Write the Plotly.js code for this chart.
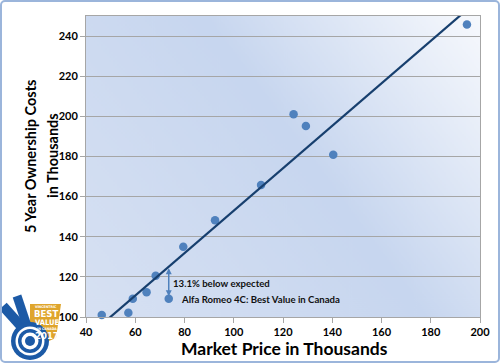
<!DOCTYPE html>
<html>
<head>
<meta charset="utf-8">
<script src="https://cdn.plot.ly/plotly-3.0.1.min.js"></script>
<style>
html,body{margin:0;padding:0;background:#fff;}
#wrap{position:relative;width:500px;height:363px;}
#chart{position:absolute;left:0;top:0;width:500px;height:363px;}
#frame{position:absolute;left:0;top:0;width:500px;height:363px;box-sizing:border-box;border:2px solid #9bb5db;border-radius:5px;pointer-events:none;}
</style>
</head>
<body>
<div id="wrap"><div id="chart"></div><div id="frame"></div></div>
<script>
// ---- data (thousands) ----
const marketPrice = [46.4, 57.2, 59.0, 64.6, 68.3, 73.6, 79.5, 92.4, 111.1, 124.3, 129.3, 140.4, 194.7];
const ownershipCost = [101.0, 102.1, 109.1, 112.3, 120.6, 109.1, 135.0, 148.2, 165.8, 201.0, 195.2, 180.9, 245.8];
const highlightIndex = 5; // Alfa Romeo 4C
const xTicks = [40, 60, 80, 100, 120, 140, 160, 180, 200];
const yTicks = [100, 120, 140, 160, 180, 200, 220, 240];
const labelBelow = "13.1% below expected";
const labelCar = "Alfa Romeo 4C: Best Value in Canada";
const xTitle = "Market Price in Thousands";
const yTitle1 = "5 Year Ownership Costs";
const yTitle2 = "in Thousands";
const logoLines = ["VINCENTRIC", "BEST", "VALUE", "IN CANADA", "2017"];

// least-squares trendline from the data
const n = marketPrice.length;
const mx = marketPrice.reduce((a,b)=>a+b,0)/n;
const my = ownershipCost.reduce((a,b)=>a+b,0)/n;
let sxy=0, sxx=0;
for (let i=0;i<n;i++){ sxy+=(marketPrice[i]-mx)*(ownershipCost[i]-my); sxx+=(marketPrice[i]-mx)**2; }
const slope = sxy/sxx, intercept = my - slope*mx;
const trendX = [xTicks[0], xTicks[xTicks.length-1]];
const trendY = trendX.map(x=>intercept+slope*x);

const hx = marketPrice[highlightIndex], hy = ownershipCost[highlightIndex];
const expected = intercept + slope*hx;

// gradient background image
const cv = document.createElement('canvas'); cv.width=400; cv.height=300;
const cx = cv.getContext('2d');
const g = cx.createLinearGradient(400,0,0,300);
g.addColorStop(0,'#f7f9fd'); g.addColorStop(0.45,'#c7d6ef'); g.addColorStop(1,'#d7e1f3');
cx.fillStyle=g; cx.fillRect(0,0,400,300);
const bg = cv.toDataURL();

// pixel -> paper helpers for decoration
const L=86,R=480,T=16,B=317;
const px = x => (x-L)/(R-L);
const py = y => (B-y)/(B-T);
function poly(pts, fill){ return {type:'path', xref:'paper', yref:'paper', layer:'above',
  path: 'M'+pts.map(p=>px(p[0])+','+py(p[1])).join(' L')+' Z', fillcolor:fill, line:{width:0}}; }
function circ(cxp,cyp,r,fill){ return {type:'circle', xref:'paper', yref:'paper', layer:'above',
  x0:px(cxp-r), x1:px(cxp+r), y0:py(cyp+r), y1:py(cyp-r), fillcolor:fill, line:{width:0}}; }
function seg(x0,y0,x1,y1,w,c){ return {type:'line', xref:'paper', yref:'paper', layer:'above',
  x0:px(x0), y0:py(y0), x1:px(x1), y1:py(y1), line:{color:c,width:w}}; }

const blue='#1c5aa6';
const shapes = [
  poly([[30,304],[61,304],[56,338],[44,343],[30,345]], '#dfa52c'),
  seg(3,306,28,334,10,blue), seg(17,296,29,332,9,blue),
  circ(30,341,19,blue), circ(30,341,14.5,'#ffffff'), circ(30,341,12,blue), circ(30,341,8.5,'#ffffff'), circ(30,341,5,blue)
];

const F = 'Lato, "Open Sans", sans-serif';
const FN = '"Liberation Sans Narrow", "DejaVu Sans Condensed", sans-serif';
function pa(x,y,txt,size,extra){ return Object.assign({x:px(x), y:py(y), xref:'paper', yref:'paper', text:txt,
  xanchor:'center', yanchor:'middle', showarrow:false, borderpad:0, font:{family:F, size:size, color:'#000'}}, extra||{}); }
function logo(i,x,y,size){ return pa(x,y,'<b>'+logoLines[i]+'</b>',size,{font:{family:FN,size:size,color:'#fff'}}); }
const annotations = [
  {x:hx, y:hy+1.3, ax:hx, ay:expected, xref:'x', yref:'y', axref:'x', ayref:'y', text:'', showarrow:true,
   arrowhead:2, startarrowhead:2, arrowside:'end+start', arrowsize:0.8, arrowwidth:1.5, arrowcolor:'#4f81bd'},
  {x:hx, y:hy+7.6, xref:'x', yref:'y', xanchor:'left', yanchor:'middle', xshift:2, text:'<b>'+labelBelow+'</b>', showarrow:false,
   font:{family:F, size:9.6, color:'#111'}},
  {x:hx, y:hy-0.4, xref:'x', yref:'y', xanchor:'left', yanchor:'middle', xshift:10, text:'<b>'+labelCar+'</b>', showarrow:false,
   font:{family:F, size:9.6, color:'#111'}},
  pa(284,348.5,'<b>'+xTitle+'</b>',17.5),
  pa(30,156,'<b>'+yTitle1+'</b>',14.5,{textangle:-90}),
  pa(52,156,'<b>'+yTitle2+'</b>',14.5,{textangle:-90}),
  logo(0,46,306.5,3.5),
  logo(1,46,313.5,9.5),
  logo(2,47,322.5,7.5),
  logo(3,47,328.5,3.5),
  logo(4,47,335.5,9.5)
];

const traces = [
  {x:marketPrice, y:ownershipCost, mode:'markers', type:'scatter', cliponaxis:false,
   marker:{size:8.5, color:'#4f81bd'}, hoverinfo:'x+y'},
  {x:trendX, y:trendY, mode:'lines', type:'scatter', line:{color:'#173f6e', width:2.2}, hoverinfo:'skip'}
];

const layout = {
  width:500, height:363, showlegend:false,
  margin:{l:L, r:500-R, t:T, b:363-B},
  paper_bgcolor:'#ffffff', plot_bgcolor:'rgba(0,0,0,0)',
  font:{family:F, color:'#000'},
  images:[{source:bg, xref:'paper', yref:'paper', x:0, y:1, sizex:1, sizey:1, sizing:'stretch', layer:'below'}],
  xaxis:{range:[40,200], tickvals:xTicks, ticktext:xTicks.map(String), showgrid:false, zeroline:false,
    showline:true, mirror:true, linecolor:'#a6a6a6', linewidth:1, ticks:'outside', ticklen:5, tickcolor:'#a6a6a6',
    ticklabelstandoff:0, tickfont:{family:F, size:11, color:'#000', weight:'bold'}},
  yaxis:{range:[100,250], tickvals:yTicks, ticktext:yTicks.map(String), showgrid:true, gridcolor:'#a6a6a6', gridwidth:1,
    zeroline:false, showline:true, mirror:true, linecolor:'#a6a6a6', linewidth:1, ticks:'outside', ticklen:5, tickcolor:'#a6a6a6',
    tickfont:{family:F, size:11, color:'#000', weight:'bold'}},
  shapes:shapes, annotations:annotations
};
Plotly.newPlot('chart', traces, layout, {staticPlot:true, displayModeBar:false});
</script>
</body>
</html>
